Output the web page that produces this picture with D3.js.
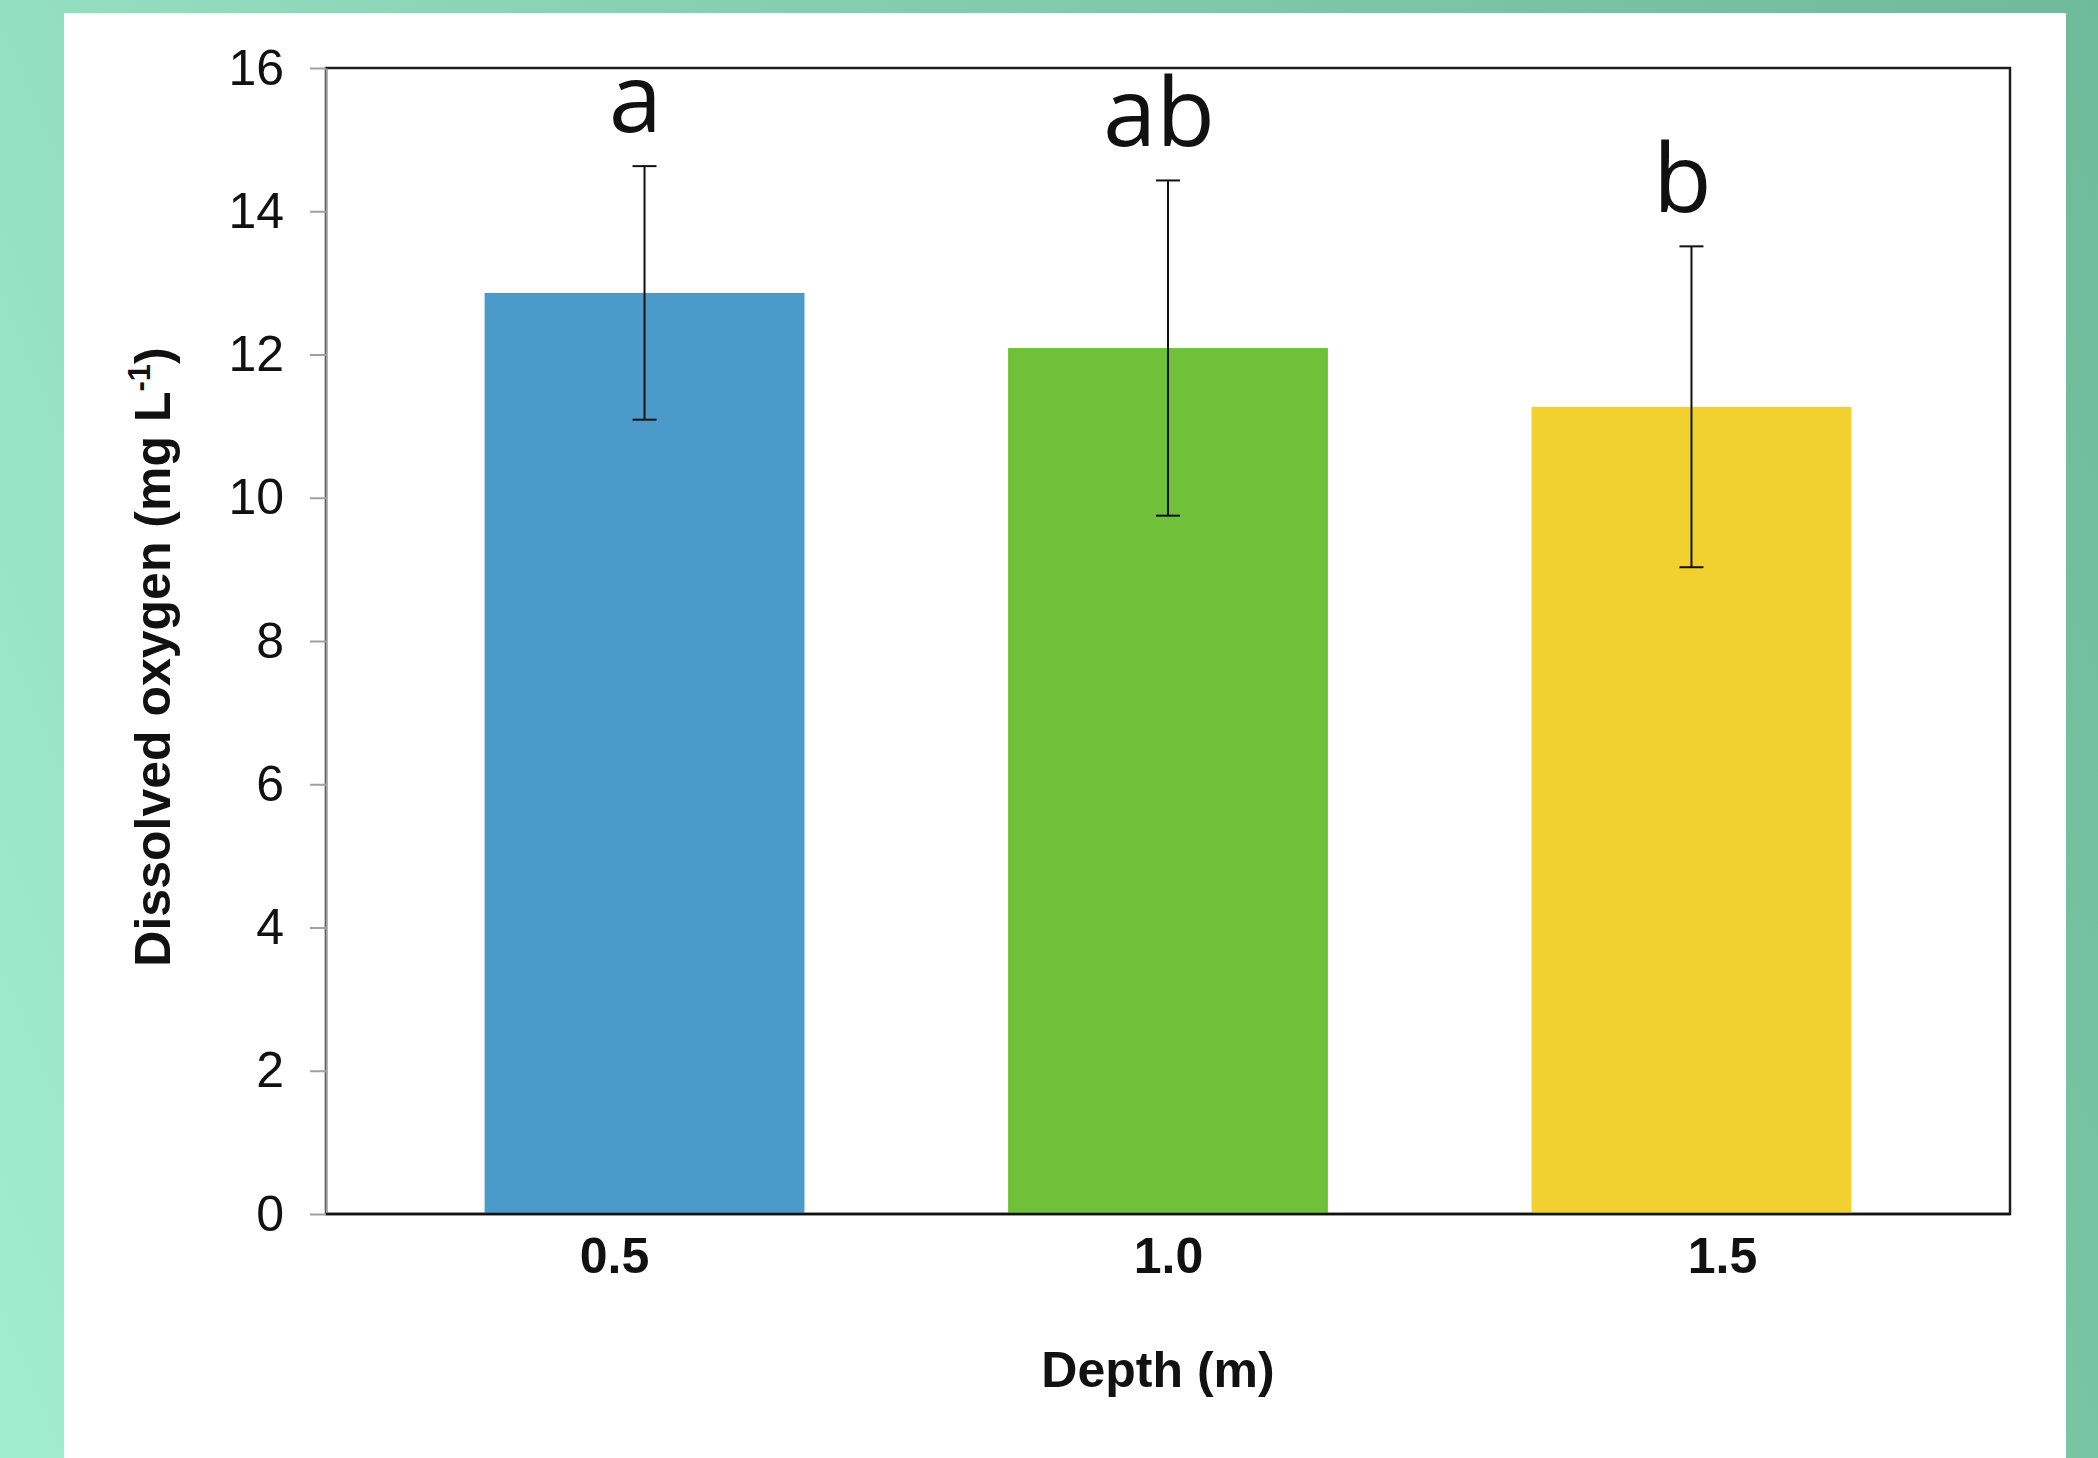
<!DOCTYPE html>
<html>
<head>
<meta charset="utf-8">
<script src="https://cdn.jsdelivr.net/npm/d3@7"></script>
<style>
  body { margin: 0; padding: 0; overflow: hidden; }
  text { font-family: "Liberation Sans", Arial, sans-serif; fill: #111; }
  .y.axis path, .y.axis line { stroke: #a0a0a0; stroke-width: 2; }
  .x.axis path { display: none; }
  .letter { font-family: "Open Sans", "Noto Sans", sans-serif; }
</style>
</head>
<body>
<div id="chart"></div>
<script>
// values
var depths = ["0.5", "1.0", "1.5"];
var means = [12.86, 12.09, 11.27];
var errors = [1.77, 2.34, 2.24];
var letters = ["a", "ab", "b"];
var yTicks = [0, 2, 4, 6, 8, 10, 12, 14, 16];

var barColors = ["#4a9bca", "#70c03a", "#f0d130"];

var width = 2098,
	height = 1458;
var margin = {top: 68, right: 88, bottom: 244, left: 326},
	Chartwidth = width - margin.left - margin.right,
	Chartheight = height - margin.top - margin.bottom;

var data = depths.map(function(d, i) {
	return {depth: d, mean: means[i], err: errors[i], letter: letters[i]};
});

var svg = d3.select("#chart").append("svg")
	.attr("width", width)
	.attr("height", height);

// teal background + white card
var grad = svg.append("defs").append("linearGradient")
	.attr("id", "bg")
	.attr("gradientUnits", "userSpaceOnUse")
	.attr("x1", 2098).attr("y1", 0)
	.attr("x2", -207).attr("y2", 961);
grad.append("stop").attr("offset", 0).attr("stop-color", "#6fba9a");
grad.append("stop").attr("offset", 0.55).attr("stop-color", "#86d2b3");
grad.append("stop").attr("offset", 1).attr("stop-color", "#a2edcf");

svg.append("rect")
	.attr("width", width).attr("height", height)
	.attr("fill", "url(#bg)");

svg.append("rect")
	.attr("x", 64).attr("y", 13)
	.attr("width", 2002).attr("height", height - 13)
	.attr("fill", "#fff");

var x = d3.scaleBand()
	.domain(depths)
	.range([0, Chartwidth])
	.paddingInner(0.389)
	.paddingOuter(0.303);

// tick labels sit a little off the bar centres in the original
var xLabel = d3.scalePoint()
	.domain(depths)
	.range([0, Chartwidth])
	.padding(0.52);

var y = d3.scaleLinear().domain([0, 16]).range([Chartheight, 0]);

var color = d3.scaleOrdinal().domain(depths).range(barColors);

var g = svg.append("g")
	.attr("transform", "translate(" + margin.left + "," + margin.top + ")");

// plot frame (top/right dark)
g.append("rect")
	.attr("x", 0).attr("y", 0)
	.attr("width", Chartwidth).attr("height", Chartheight)
	.attr("fill", "none")
	.attr("stroke", "#1e1e1e")
	.attr("stroke-width", 2.5);

g.selectAll(".bar")
	.data(data)
  .enter().append("rect")
	.attr("class", "bar")
	.attr("x", function(d) { return x(d.depth); })
	.attr("width", x.bandwidth())
	.attr("y", function(d) { return y(d.mean); })
	.attr("height", function(d) { return Chartheight - y(d.mean); })
	.attr("fill", function(d) { return color(d.depth); });

// error bars
var eb = g.selectAll(".err")
	.data(data)
  .enter().append("g")
	.attr("class", "err")
	.attr("transform", function(d) { return "translate(" + (x(d.depth) + x.bandwidth() / 2) + ",0)"; })
	.attr("stroke", "#111")
	.attr("stroke-width", 2);

eb.append("line")
	.attr("y1", function(d) { return y(d.mean + d.err); })
	.attr("y2", function(d) { return y(d.mean - d.err); });
eb.append("line")
	.attr("x1", -12).attr("x2", 12)
	.attr("y1", function(d) { return y(d.mean + d.err); })
	.attr("y2", function(d) { return y(d.mean + d.err); });
eb.append("line")
	.attr("x1", -12).attr("x2", 12)
	.attr("y1", function(d) { return y(d.mean - d.err); })
	.attr("y2", function(d) { return y(d.mean - d.err); });

// significance letters
g.selectAll(".letter")
	.data(data)
  .enter().append("text")
	.attr("class", "letter")
	.attr("x", function(d) { return x(d.depth) + x.bandwidth() / 2 - 9; })
	.attr("y", function(d) { return y(d.mean + d.err) - 34; })
	.attr("text-anchor", "middle")
	.style("font-size", "96px")
	.text(function(d) { return d.letter; });

// axes
g.append("g")
	.attr("class", "y axis")
	.call(d3.axisLeft(y).tickValues(yTicks).tickSize(16).tickPadding(26).tickSizeOuter(0))
	.selectAll("text")
	.style("font-size", "50px")
	.style("font-family", "'Liberation Sans', Arial, sans-serif")
	.attr("fill", "#111");

g.append("line")
	.attr("x1", 0).attr("x2", Chartwidth)
	.attr("y1", Chartheight).attr("y2", Chartheight)
	.attr("stroke", "#111")
	.attr("stroke-width", 2.5);

g.append("g")
	.attr("class", "x axis")
	.attr("transform", "translate(0," + Chartheight + ")")
	.call(d3.axisBottom(xLabel).tickSize(0).tickPadding(23))
	.selectAll("text")
	.style("font-size", "50px")
	.style("font-weight", "bold")
	.style("font-family", "'Liberation Sans', Arial, sans-serif")
	.attr("fill", "#111");

// axis titles
svg.append("text")
	.attr("x", margin.left + Chartwidth / 2 - 10)
	.attr("y", 1387)
	.attr("text-anchor", "middle")
	.style("font-size", "50px")
	.style("font-weight", "bold")
	.text("Depth (m)");

var yt = svg.append("text")
	.attr("transform", "translate(170,657) rotate(-90)")
	.attr("text-anchor", "middle")
	.style("font-size", "50px")
	.style("font-weight", "bold");
yt.append("tspan").text("Dissolved oxygen (mg L");
yt.append("tspan").attr("dy", -20).style("font-size", "31px").text("-1");
yt.append("tspan").attr("dy", 20).text(")");
</script>
</body>
</html>
